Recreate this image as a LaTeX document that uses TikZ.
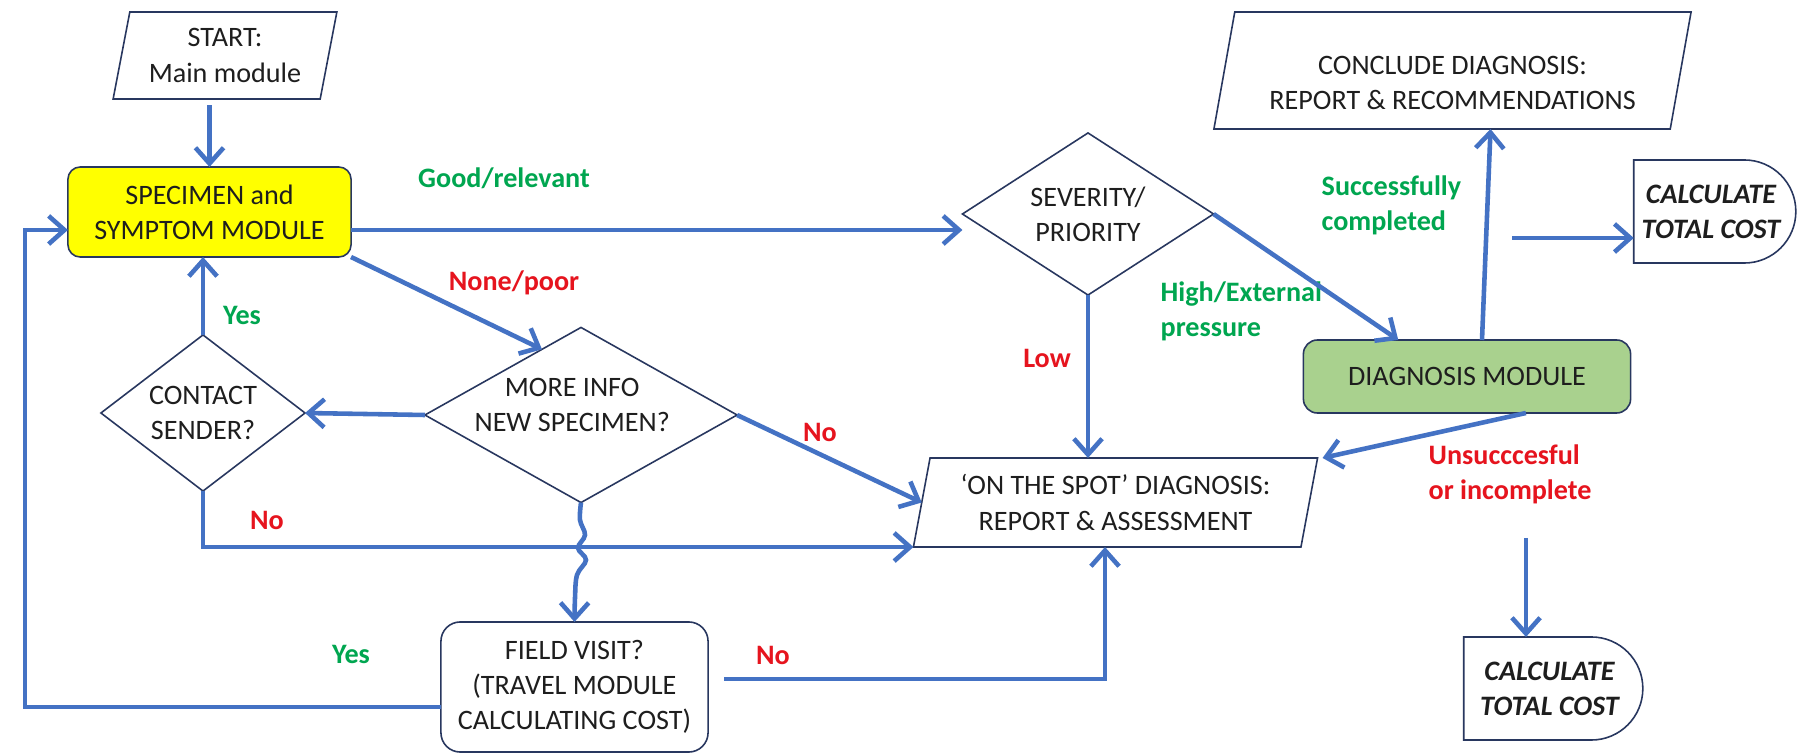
\documentclass[tikz,border=0pt]{standalone}
\usepackage{fontspec}
\setmainfont{Carlito}
\usetikzlibrary{shapes.geometric,shapes.misc,arrows.meta,calc}
\definecolor{arrowblue}{RGB}{68,114,196}
\definecolor{edgec}{RGB}{40,55,95}
\definecolor{lblgreen}{RGB}{0,166,80}
\definecolor{lblred}{RGB}{230,20,30}
\definecolor{specyellow}{RGB}{255,255,0}
\definecolor{diaggreen}{RGB}{169,209,142}
\definecolor{txt}{RGB}{30,30,30}
\begin{document}
\begin{tikzpicture}[x=0.01cm,y=-0.01cm,
  font=\fontsize{8}{10}\selectfont,
  box/.style={draw=edgec, line width=0.45pt, text=txt, align=center, inner sep=0pt, outer sep=0pt},
  para/.style={box, trapezium, trapezium left angle=76, trapezium right angle=104, trapezium stretches=true},
  rbox/.style={box, rectangle, rounded corners=3.5pt},
  dec/.style={box, diamond},
  lbl/.style={text=txt, align=center},
  delaybox/.style={box, rounded rectangle, rounded rectangle left arc=none, font=\fontsize{8}{10}\selectfont\bfseries\itshape},
  arr/.style={draw=arrowblue, line width=1.3pt, -{Straight Barb[length=4.5pt,width=8pt,line width=1.3pt]}},
  yes/.style={text=lblgreen, font=\fontsize{8}{10}\selectfont\bfseries, align=left, inner sep=0pt},
  no/.style={text=lblred, font=\fontsize{8}{10}\selectfont\bfseries, align=left, inner sep=0pt},
]
\fill[white] (0,0) rectangle (1805,755);
\useasboundingbox (0,0) rectangle (1805,755);

% nodes
\node[para, minimum width=2.24cm, minimum height=0.87cm] (start) at (225,55.5) {START:\\Main module};
\node[rbox, fill=specyellow, minimum width=2.83cm, minimum height=0.90cm] (spec) at (209.5,212) {SPECIMEN and\\SYMPTOM MODULE};
\node[dec, minimum width=2.04cm, minimum height=1.56cm, label={[lbl]center:{CONTACT\\SENDER?}}] (contact) at (203,413) {};
\node[dec, minimum width=3.12cm, minimum height=1.75cm, label={[lbl,xshift=-2.5pt,yshift=2.8pt]center:{MORE INFO\\NEW SPECIMEN?}}] (more) at (581,415) {};
\node[dec, minimum width=2.51cm, minimum height=1.62cm, label={[lbl]center:{SEVERITY/\\PRIORITY}}] (sev) at (1088,214) {};
\node[rbox, rounded corners=5.5pt, minimum width=2.67cm, minimum height=1.30cm] (fv) at (574.5,687) {FIELD VISIT?\\(TRAVEL MODULE\\CALCULATING COST)};
\node[para, minimum width=4.05cm, minimum height=0.89cm] (spot) at (1115.5,502.5) {‘ON THE SPOT’ DIAGNOSIS:\\REPORT \& ASSESSMENT};
\node[rbox, fill=diaggreen, rounded corners=4pt, minimum width=3.27cm, minimum height=0.73cm] (diag) at (1467,376.5) {DIAGNOSIS MODULE};
\node[para, minimum width=4.77cm, minimum height=1.17cm] (concl) at (1452.5,70.5) {\raisebox{-4pt}[\height][\depth]{\begin{tabular}{@{}c@{}}CONCLUDE DIAGNOSIS:\\REPORT \& RECOMMENDATIONS\end{tabular}}};
\node[delaybox, minimum width=1.62cm, minimum height=1.03cm] (calc1) at (1711,211.5) {CALCULATE\\TOTAL COST};
\node[delaybox, minimum width=1.79cm, minimum height=1.03cm] (calc2) at (1549.5,688.5) {CALCULATE\\TOTAL COST};

% labels
\node[yes] (lgood) at (504,178) {Good/relevant};
\node[no] (lnone) at (514,283) {None/poor};
\node[yes] (lyes1) at (242,315) {Yes};
\node[no] (lno1) at (820,432) {No};
\node[no] (lno2) at (267,520) {No};
\node[yes] (lyes2) at (351,654) {Yes};
\node[no] (lno3) at (773,655) {No};
\node[no] (llow) at (1047,358) {Low};
\node[yes, anchor=west] (lhigh) at (1160,311) {High/External\\pressure};
\node[yes, anchor=west] (lsucc) at (1321,205.5) {Successfully\\completed};
\node[no, anchor=west] (lunsucc) at (1428,474) {Unsucccesful\\or incomplete};

% connectors
\coordinate (startb) at ($(spec.north |- start.south)+(0,6)$);
\draw[arr] (startb) -- (spec.north);
\coordinate (specr) at ($(spec.east)+(0,18)$);
\draw[arr] (specr) -- (specr -| sev.west);
\draw[arr] (spec.south east) -- ($(more.north)!0.25!(more.west)$);
\draw[arr] (contact.north) -- (contact.north |- spec.south);
\draw[arr] (more.west) -- (contact.east);
\draw[arr] (more.east) -- (spot.west);
\draw[arr] (contact.south) |- (spot.bottom left corner);
\draw[arr] plot[smooth, tension=0.6] coordinates {(more.south) (580,520) (585,535) (578,548) (586,560) (577,575) (575,598) (fv.north)};
\coordinate (loop) at (25,707);
\coordinate (specl) at ($(spec.west)+(0,18)$);
\draw[arr] ($(fv.west)+(0,20)$) -- (loop) |- (specl);
\coordinate (fvno) at ($(fv.east)+(16,-8)$);
\coordinate (fvturn) at (1105,679);
\draw[arr] (fvno) -- (fvturn) -- (fvturn |- spot.south);
\draw[arr] (sev.south) -- (sev.south |- spot.north);
\draw[arr] (sev.east) -- ($(diag.north west)!0.29!(diag.north east)$);
\draw[arr] ($(diag.north)+(15,0)$) -- ($(concl.south)+(38,0)$);
\coordinate (c1s) at (1512,238);
\draw[arr] (c1s) -- (c1s -| calc1.west);
\draw[arr] ($(diag.south west)!0.68!(diag.south east)$) -- ($(spot.top right corner)+(5,0)$);
\coordinate (c2s) at (1526,538);
\draw[arr] (c2s) -- (c2s |- calc2.north);
\end{tikzpicture}
\end{document}
